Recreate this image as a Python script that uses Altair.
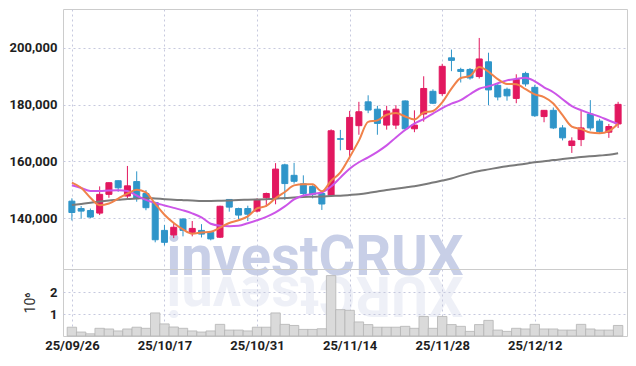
import altair as alt
import pandas as pd

dates = ["25/09/26","25/09/29","25/09/30","25/10/01","25/10/02","25/10/10","25/10/13","25/10/14","25/10/15","25/10/16",
         "25/10/17","25/10/20","25/10/21","25/10/22","25/10/23","25/10/24","25/10/27","25/10/28","25/10/29","25/10/30",
         "25/10/31","25/11/03","25/11/04","25/11/05","25/11/06","25/11/07","25/11/10","25/11/11","25/11/12","25/11/13",
         "25/11/14","25/11/17","25/11/18","25/11/19","25/11/20","25/11/21","25/11/24","25/11/25","25/11/26","25/11/27",
         "25/11/28","25/12/01","25/12/02","25/12/03","25/12/04","25/12/05","25/12/08","25/12/09","25/12/10","25/12/11",
         "25/12/12","25/12/15","25/12/16","25/12/17","25/12/18","25/12/19","25/12/22","25/12/23","25/12/24","25/12/26"]

opens = [146000,143400,142700,141800,148400,153200,147800,152900,148700,145500,
         135700,134100,139700,135000,135700,135000,133300,146600,143400,143400,
         142500,147200,147000,158800,155100,152100,151200,148700,148100,168000,
         164200,172600,181000,178400,172800,172800,181300,171500,176700,184700,
         183900,196500,192400,192400,189900,195100,186800,185400,182200,191000,
         186100,175800,178000,171800,165600,167700,176700,174200,170300,173200]
highs = [147000,144300,143400,151200,152600,153300,158400,156500,149900,145800,
         137600,138200,140000,139000,137900,135500,144400,146700,143700,144400,
         147000,149000,159400,159200,159500,155100,151600,149800,171300,171100,
         177800,181000,183300,179600,179600,179800,181500,178000,190000,185400,
         194400,199400,193000,192900,203500,198300,187500,186000,190700,191600,
         187000,178100,179000,172800,168500,177800,181600,175000,173200,181000]
lows = [139200,139800,140000,141100,147200,149300,147000,145800,142800,131500,
        130400,133000,133600,133600,133200,132200,133000,142300,139700,139000,
        142000,144100,144900,146400,152200,147200,147000,142900,148000,163900,
        161000,169400,177000,169400,171200,171400,171200,170300,174000,180200,
        183100,191800,187800,188800,189200,179800,181500,181400,180500,186400,
        175700,173800,171400,167400,163000,165400,170900,169700,168300,171800]
closes = [142000,142500,140400,148400,152500,150700,151400,147000,143700,132400,
          131500,136800,135700,136400,134400,132700,144200,143900,141100,141400,
          146600,148700,157300,152200,153000,148700,148400,145000,170800,167800,
          175500,177500,178100,173400,177800,178400,171500,172800,185700,180500,
          193500,195600,191700,189400,196100,185200,182700,183100,188900,187300,
          176100,178000,171800,168300,167200,171800,171800,170500,172300,180100]
ma5 = [152550,150700,147200,144600,145160,146900,148680,150000,149060,145040,
       141200,138280,136020,134560,134960,135200,136680,138320,139260,140660,
       143440,144340,147020,149240,151560,151980,151920,149460,153180,156140,
       161500,167320,173940,174460,176460,177040,175840,174780,177240,177780,
       180800,185620,189400,190140,193260,191600,189020,187300,187200,185440,
       183620,182680,180420,176300,172280,171420,170180,169920,170720,173300]
ma20 = [151600,150620,149570,149570,149750,149850,149570,148000,146430,145380,
        144500,143630,142750,141710,140310,138030,137330,137160,137330,138210,
        139260,140480,142050,144150,146600,148000,148530,149050,151150,154300,
        157440,159710,161460,163390,165660,168460,171080,173350,174930,176850,
        178770,180350,181570,183670,185590,186470,187520,188560,189090,189510,
        188220,186120,184370,181920,179470,178070,176850,175800,174400,173180]
ma60 = [144610,145030,145450,145900,146250,146500,146780,146950,147130,146950,
        146710,146500,146360,146250,146080,146080,146150,146250,146430,146500,
        146600,146710,146850,147130,147300,147480,147550,147650,147830,147930,
        148170,148450,148870,149400,149920,150340,150800,151250,151850,152550,
        153250,154010,154990,155870,156640,157200,157790,158320,158740,159190,
        159720,160060,160480,160830,161180,161530,161810,162060,162340,162860]
volume_m = [0.40,0.18,0.10,0.35,0.32,0.23,0.32,0.40,0.35,1.05,
            0.55,0.41,0.35,0.23,0.18,0.23,0.53,0.27,0.27,0.23,
            0.40,0.40,1.05,0.53,0.48,0.30,0.30,0.33,2.75,1.20,
            1.17,0.64,0.52,0.40,0.40,0.40,0.44,0.35,0.89,0.35,
            0.89,0.52,0.44,0.21,0.52,0.71,0.27,0.21,0.35,0.32,
            0.53,0.32,0.32,0.27,0.27,0.53,0.32,0.27,0.27,0.48]
price_ticks = [140000, 160000, 180000, 200000]
vol_ticks = [1, 2]
date_ticks = [0, 10, 20, 30, 40, 50]
watermark = "investCRUX"

UP, DOWN = "#e2185f", "#2f95c9"
FONT = "Roboto"

n = len(dates)
df = pd.DataFrame({
    "idx": list(range(n)), "date": dates,
    "open": opens, "high": highs, "low": lows, "close": closes,
    "ma5": ma5, "ma20": ma20, "ma60": ma60, "vol": volume_m,
})
df["dir"] = ["up" if c >= o else "down" for o, c in zip(opens, closes)]

xscale = alt.Scale(domain=[-0.42, n - 1 + 0.42], nice=False, zero=False)
label_expr = "[" + ",".join("'%s'" % d for d in dates) + "][datum.value]"
color = alt.Color("dir:N", scale=alt.Scale(domain=["up", "down"], range=[UP, DOWN]), legend=None)

base = alt.Chart(df)
x_top = alt.X("idx:Q", scale=xscale,
              axis=alt.Axis(values=date_ticks, labels=False, ticks=False, domain=False, title=None, grid=True))
yp = alt.Scale(domain=[122100, 213700], nice=False, zero=False)

wm_df = pd.DataFrame({"t": [watermark], "r": [watermark[::-1]]})
wm = alt.Chart(wm_df).mark_text(font=FONT, fontSize=56, fontWeight="bold", color="#c8cfe7",
                                align="center", baseline="alphabetic").encode(
    x=alt.value(252), y=alt.value(266), text="t:N")
wm_ref = alt.Chart(wm_df).mark_text(font=FONT, fontSize=56, fontWeight="bold", color="#c8cfe7",
                                    opacity=0.3, angle=180, align="center", baseline="alphabetic").encode(
    x=alt.value(252), y=alt.value(268), text="r:N")

wick = base.mark_rule(strokeWidth=1).encode(
    x=x_top, y=alt.Y("low:Q", scale=yp, axis=alt.Axis(values=price_ticks, format=",d", title=None,
                                                       ticks=False, domain=False, grid=True, labelPadding=6)),
    y2="high:Q", color=color)
body = base.mark_bar(size=6, strokeWidth=1).encode(
    x=x_top, y="open:Q", y2="close:Q", color=color, stroke=color)
l60 = base.mark_line(color="#7a7a7a", strokeWidth=2, interpolate="monotone").encode(x=x_top, y="ma60:Q")
l20 = base.mark_line(color="#cc55e8", strokeWidth=2, interpolate="monotone").encode(x=x_top, y="ma20:Q")
l5 = base.mark_line(color="#f0824a", strokeWidth=2, interpolate="monotone").encode(x=x_top, y="ma5:Q")

price = alt.layer(wm, wm_ref, wick, body, l60, l20, l5).properties(width=564, height=260)

vol = base.mark_bar(size=9.42, fill="#dadada", stroke="#b4b4b4", strokeWidth=0.8).encode(
    x=alt.X("idx:Q", scale=xscale,
            axis=alt.Axis(values=date_ticks, labelExpr=label_expr, ticks=False, domain=False,
                          title=None, grid=True, labelPadding=3, labelFontSize=13)),
    y=alt.Y("vol:Q", scale=alt.Scale(domain=[0, 3.05], nice=False),
            axis=alt.Axis(values=vol_ticks, format="d", title="10⁶", ticks=False, domain=False,
                          grid=True, labelPadding=6, titlePadding=12, titleFontWeight="normal",
                          titleFontSize=14, titleColor="#333")),
).properties(width=564, height=67)

chart = alt.vconcat(price, vol, spacing=0, bounds="flush").configure(
    padding={"left": 0, "top": 0, "right": 0, "bottom": 0}
).configure_view(stroke="#cccccc").configure_axis(
    gridColor="#c6c9de", gridDash=[2, 3], gridWidth=1,
    labelFont=FONT, labelFontSize=13, labelFontWeight="bold", labelColor="#1e1e1e",
    titleFont=FONT,
)

chart.save("out.html", embed_options={"renderer": "svg", "actions": False})
